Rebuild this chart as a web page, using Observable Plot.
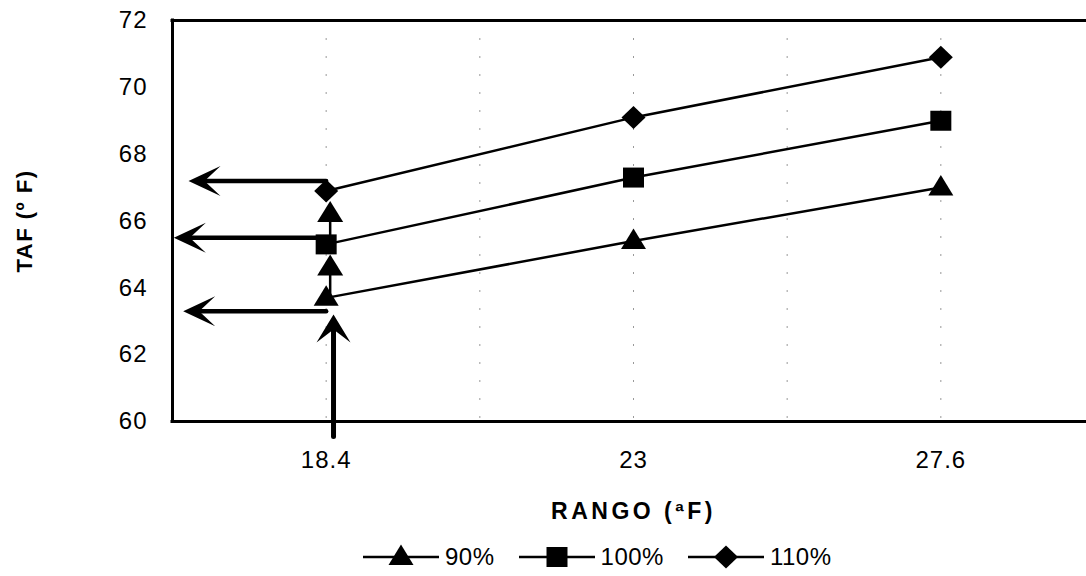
<!DOCTYPE html>
<html><head><meta charset="utf-8">
<script src="https://cdn.jsdelivr.net/npm/d3@7"></script>
<script src="https://cdn.jsdelivr.net/npm/@observablehq/plot@0.6"></script>
<style>
body{margin:0;background:#fff;font-family:"Liberation Sans",Arial,sans-serif;}
#legend{display:flex;align-items:center;margin-left:363px;height:26px;margin-top:9px;font-size:24px;color:#000;font-family:"Liberation Sans",Arial,sans-serif;}
.item{display:flex;align-items:center;margin-right:24px}
.item span{margin-left:6px;letter-spacing:0.5px}
</style></head><body>
<div id="chart"></div>
<div id="legend"></div>
<script>
// ---- data ----
const categories = [18.4, 23, 27.6];
const seriesNames = ["90%", "100%", "110%"];
const taf90  = [63.7, 65.4, 67.0];
const taf100 = [65.3, 67.3, 69.0];
const taf110 = [66.9, 69.1, 70.9];
const yTicks = [60, 62, 64, 66, 68, 70, 72];
const xTicks = [18.4, 23, 27.6];
const gridX = [18.4, 20.7, 23, 25.3, 27.6];
const xDomain = [16.1, 29.9];
const yDomain = [60, 72];
// horizontal read-off arrows (from 18.4 to the left)
const readLevels = [67.2, 65.5, 63.3];
const readTips = [16.34, 16.12, 16.26];
// vertical arrows at 18.4
const upX = [18.51, 18.46, 18.46];
const upStarts = [59.55, 63.7, 65.3];
const upTips = [63.2, 65.0, 66.6];
const yLabel = "TAF (º F)";
const xLabel = "RANGO (ªF)";

// ---- symbols ----
const triSym = {draw(c){c.moveTo(0,-12.5);c.lineTo(12.5,8);c.lineTo(-12.5,8);c.closePath();}};
const sqSym  = {draw(c){c.moveTo(-10.5,-10);c.lineTo(10.5,-10);c.lineTo(10.5,10);c.lineTo(-10.5,10);c.closePath();}};
const diaSym = {draw(c){c.moveTo(0,-11.5);c.lineTo(12,0);c.lineTo(0,11.5);c.lineTo(-12,0);c.closePath();}};
const leftHead = {draw(c){c.moveTo(0,0);c.lineTo(32,-15);c.lineTo(16,0);c.lineTo(32,15);c.closePath();}};
const upHead = {draw(c){c.moveTo(0,0);c.lineTo(17,28);c.lineTo(0,15);c.lineTo(-17,28);c.closePath();}};
const smallUp = {draw(c){c.moveTo(0,0);c.lineTo(13,21);c.lineTo(-13,21);c.closePath();}};
const symbols = [triSym, sqSym, diaSym];

const seriesValues = [taf90, taf100, taf110];
const rows = seriesNames.flatMap((s, i) => categories.map((x, j) => ({series: s, x, y: seriesValues[i][j]})));
const hRows = readLevels.map((y, i) => ({y, x1: categories[0], x2: readTips[i]}));
const vRows = upX.map((x, i) => ({x, y1: upStarts[i], y2: upTips[i], big: i === 0}));

const chart = Plot.plot({
  width: 1086, height: 535,
  marginLeft: 172, marginRight: -8, marginTop: 20, marginBottom: 114,
  x: {domain: xDomain}, y: {domain: yDomain},
  style: {fontFamily: "'Liberation Sans', Arial, sans-serif", fontSize: "24px", color: "#000", background: "#fff"},
  marks: [
    Plot.ruleX(gridX, {stroke: "#999", strokeWidth: 1, strokeDasharray: "2,16"}),
    Plot.ruleY(yDomain, {stroke: "#000", strokeWidth: 3, strokeLinecap: "square"}),
    Plot.ruleX([xDomain[0]], {stroke: "#000", strokeWidth: 3, strokeLinecap: "square"}),
    Plot.line(rows, {x: "x", y: "y", z: "series", stroke: "#000", strokeWidth: 2.5}),
    Plot.arrow(hRows, {x1: "x1", x2: "x2", y1: "y", y2: "y", stroke: "#000", strokeWidth: 4.5, headLength: 0, insetEnd: 12}),
    Plot.arrow(vRows.filter(d => d.big), {x1: "x", x2: "x", y1: "y1", y2: "y2", stroke: "#000", strokeWidth: 5, headLength: 0, insetEnd: 10}),
    Plot.arrow(vRows.filter(d => !d.big), {x1: "x", x2: "x", y1: "y1", y2: "y2", stroke: "#000", strokeWidth: 2.5, headLength: 0, insetEnd: 8}),
    ...seriesNames.map((s, i) => Plot.dot(rows.filter(d => d.series === s), {x: "x", y: "y", symbol: symbols[i], fill: "#000", stroke: "none"})),
    Plot.dot(hRows, {x: "x2", y: "y", symbol: leftHead, fill: "#000", stroke: "none"}),
    Plot.dot(vRows.filter(d => d.big), {x: "x", y: "y2", symbol: upHead, fill: "#000", stroke: "none"}),
    Plot.dot(vRows.filter(d => !d.big), {x: "x", y: "y2", symbol: smallUp, fill: "#000", stroke: "none"}),
    Plot.axisY(yTicks, {tickSize: 0, tickPadding: 25, fontSize: 24, label: null, tickFormat: d => String(d)}),
    Plot.axisX(xTicks, {tickSize: 0, tickPadding: 29, fontSize: 24, label: null, tickFormat: d => String(d)}),
    Plot.text([yLabel], {text: d => d, frameAnchor: "left", dx: -148, rotate: -90, textAnchor: "middle", lineAnchor: "middle", fontSize: 22, fontWeight: "bold"}),
    Plot.text([xLabel], {text: d => d, frameAnchor: "bottom", dy: 90, textAnchor: "middle", lineAnchor: "middle", fontSize: 23, fontWeight: "bold"})
  ]
});
document.getElementById("chart").appendChild(chart);
const allText = d3.select(chart).selectAll("text");
allText.filter(function(){ return this.textContent === yLabel; }).style("letter-spacing", "1.5px");
allText.filter(function(){ return this.textContent === xLabel; }).style("letter-spacing", "3.5px");
allText.filter(function(){ return /^[0-9.]+$/.test(this.textContent); }).style("letter-spacing", "1px");

// ---- legend ----
const legend = d3.select("#legend");
seriesNames.forEach((s, i) => {
  const item = legend.append("div").attr("class", "item");
  const svg = item.append("svg").attr("width", 76).attr("height", 26);
  svg.append("line").attr("x1", 0).attr("x2", 76).attr("y1", 13).attr("y2", 13).attr("stroke", "#000").attr("stroke-width", 2.5);
  const p = d3.path(); symbols[i].draw(p);
  svg.append("path").attr("d", p.toString()).attr("transform", "translate(38,13)").attr("fill", "#000");
  item.append("span").text(s);
});
</script>
</body></html>
